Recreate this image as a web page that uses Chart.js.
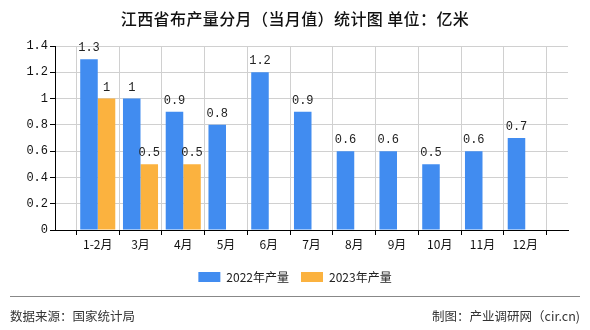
<!DOCTYPE html>
<html><head><meta charset="utf-8">
<script src="https://cdn.jsdelivr.net/npm/chart.js@4/dist/chart.umd.min.js"></script>
<style>
html,body{margin:0;padding:0;background:#fff;}
#wrap{position:relative;width:590px;height:330px;overflow:hidden;}
#title{position:absolute;left:0;top:6px;width:590px;text-align:center;font:500 16px "Noto Sans CJK SC",sans-serif;letter-spacing:0.4px;color:#111;}
#rule{position:absolute;left:10px;top:296px;width:570px;height:0;border-top:1px solid #888;}
.foot{position:absolute;top:306px;font:12.5px "Noto Sans CJK SC",sans-serif;color:#333;}
</style></head>
<body><div id="wrap">
<canvas id="c" width="590" height="330"></canvas>
<div id="title">江西省布产量分月（当月值）统计图 单位：亿米</div>
<div id="rule"></div>
<div class="foot" style="left:10px">数据来源：国家统计局</div>
<div class="foot" style="right:10px">制图：产业调研网（cir.cn)</div>
</div>
<script>
const categories = ['1-2月','3月','4月','5月','6月','7月','8月','9月','10月','11月','12月'];
const series2022 = [1.3,1,0.9,0.8,1.2,0.9,0.6,0.6,0.5,0.6,0.7];
const series2023 = [1,0.5,0.5,null,null,null,null,null,null,null,null];
const seriesNames = ['2022年产量','2023年产量'];
const yTicks = [0,0.2,0.4,0.6,0.8,1,1.2,1.4];

// pad with empty slots at both ends so the axis runs edge to edge
const labels = [''].concat(categories, ['']);
const pad = arr => [null].concat(arr, [null]);

const valueLabels = {
  id:'valueLabels',
  afterDatasetsDraw(chart){
    const ctx = chart.ctx;
    ctx.save();
    ctx.font = '12px "Liberation Mono", monospace';
    ctx.fillStyle = '#222';
    ctx.textAlign = 'center';
    ctx.textBaseline = 'bottom';
    chart.data.datasets.forEach((ds,i)=>{
      const meta = chart.getDatasetMeta(i);
      meta.data.forEach((el,j)=>{
        const v = ds.data[j];
        if (v === null || v === undefined) return;
        ctx.fillText(String(v), el.x, el.y - 5);
      });
    });
    ctx.restore();
  }
};

new Chart(document.getElementById('c'), {
  type:'bar',
  data:{
    labels: labels,
    datasets:[
      {label:seriesNames[0], data:pad(series2022), backgroundColor:'#418cf0', borderWidth:0},
      {label:seriesNames[1], data:pad(series2023), backgroundColor:'#fbb23f', borderWidth:0}
    ]
  },
  options:{
    responsive:false,
    animation:false,
    layout:{padding:{top:46, right:0, left:0, bottom:37}},
    plugins:{
      legend:{
        position:'bottom',
        labels:{boxWidth:22, boxHeight:10, padding:12, color:'#222',
          font:{family:'"Noto Sans CJK SC", sans-serif', size:12}}
      },
      tooltip:{enabled:false},
      title:{display:false}
    },
    datasets:{bar:{categoryPercentage:0.82, barPercentage:1, grouped:true}},
    scales:{
      x:{
        offset:false,
        grid:{color:'#d0d0d0', lineWidth:1, drawTicks:true, tickLength:5, tickColor:'#000'},
        border:{color:'#000', width:1},
        ticks:{color:'#111', autoSkip:false, maxRotation:0, padding:2,
          font:{family:'"Noto Sans CJK SC", sans-serif', size:12}},
        afterFit(s){ s.height = 29; }
      },
      y:{
        min:0, max:1.4,
        afterBuildTicks(s){ s.ticks = yTicks.map(v=>({value:v})); },
        grid:{color:'#d0d0d0', lineWidth:1, tickLength:5, tickColor:'#000'},
        border:{color:'#000', width:1},
        ticks:{color:'#111', padding:2,
          font:{family:'"Liberation Mono", monospace', size:12},
          callback:v=>String(v)},
        afterFit(s){ s.width = 55; }
      },
      yRightSpace:{
        position:'right', display:true,
        grid:{display:false}, border:{display:false}, ticks:{display:false},
        afterFit(s){ s.width = 22; }
      }
    }
  },
  plugins:[valueLabels]
});
</script>
</body></html>
